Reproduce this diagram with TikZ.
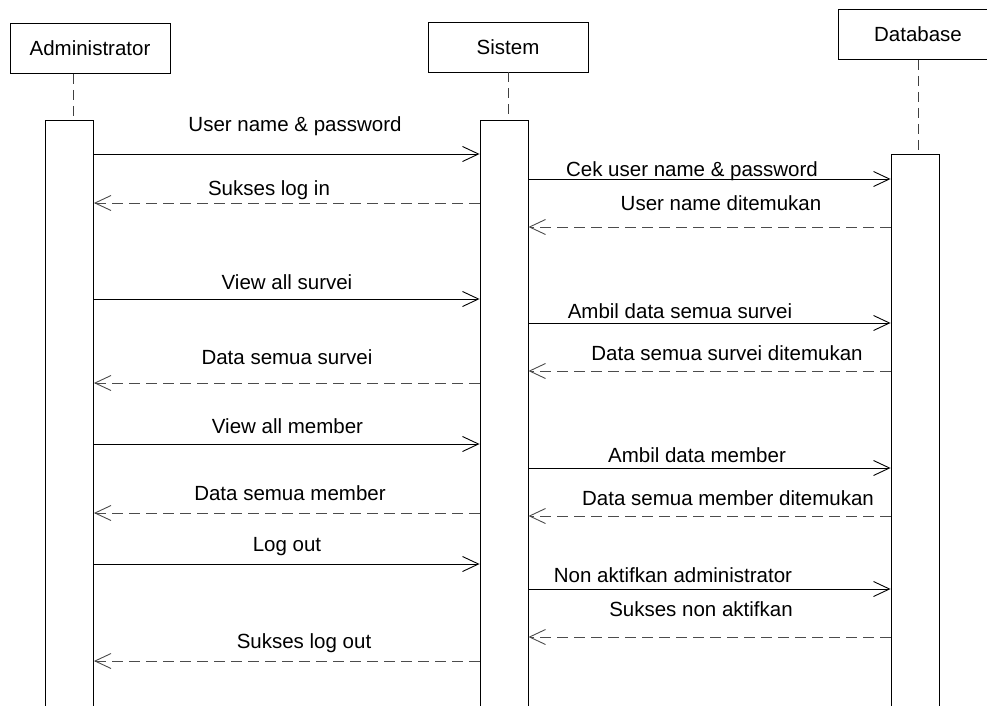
\documentclass[tikz,border=0pt]{standalone}
\usepackage{fontspec}
\setmainfont{Liberation Sans}
\usetikzlibrary{arrows.meta}
\begin{document}
\begin{tikzpicture}[x=1pt,y=-1pt,
  every node/.style={font=\fontsize{20.5}{24}\selectfont},
  head/.style={draw, line width=0.9pt, minimum width=160pt, minimum height=50pt, inner sep=0pt},
  bar/.style={draw, line width=0.9pt, fill=white, minimum width=48pt, minimum height=650pt, anchor=north, inner sep=0pt},
  life/.style={line width=0.9pt, dash pattern=on 10pt off 6pt, draw=black!75},
  call/.style={line width=0.9pt, -{Straight Barb[length=16pt,width=15pt]}},
  reply/.style={call, dash pattern=on 11pt off 6pt, draw=black!70},
  msg/.style={inner sep=0pt}
]
\useasboundingbox (0,0) rectangle (987,706);
\clip (0,0) rectangle (987,706);

% participants
\node[head] (admin) at (90,48.5) {Administrator};
\node[head] (sistem) at (508,47) {Sistem};
\node[head] (db) at (918,34.5) {Database};

% activation bars
\node[bar] (aBar) at (69.5,120) {};
\node[bar] (sBar) at (504,120) {};
\node[bar] (dBar) at (915,154) {};

% lifelines
\draw[life] ([xshift=-17pt]admin.south) -- ([xshift=-17pt]admin.south |- aBar.north);
\draw[life] (sistem.south) -- (sistem.south |- sBar.north);
\draw[life] (db.south) -- (db.south |- dBar.north);

% messages
\draw[call]  (aBar.east |- 0,154) -- (sBar.west |- 0,154);
\node[msg] (m1) at (295,126) {User name \& password};
\draw[reply] (sBar.west |- 0,203) -- (aBar.east |- 0,203);
\node[msg] (m2) at (269,190) {Sukses log in};
\draw[call]  (sBar.east |- 0,179) -- (dBar.west |- 0,179);
\node[msg] (m3) at (692,171) {Cek user name \& password};
\draw[reply] (dBar.west |- 0,227) -- (sBar.east |- 0,227);
\node[msg] (m4) at (721,203) {User name ditemukan};

\draw[call]  (aBar.east |- 0,299) -- (sBar.west |- 0,299);
\node[msg] (m5) at (287,282) {View all survei};
\draw[call]  (sBar.east |- 0,323) -- (dBar.west |- 0,323);
\node[msg] (m6) at (680,311) {Ambil data semua survei};
\draw[reply] (dBar.west |- 0,371) -- (sBar.east |- 0,371);
\node[msg] (m8) at (727,353) {Data semua survei ditemukan};
\draw[reply] (sBar.west |- 0,383) -- (aBar.east |- 0,383);
\node[msg] (m7) at (287,357) {Data semua survei};

\draw[call]  (aBar.east |- 0,444) -- (sBar.west |- 0,444);
\node[msg] (m9) at (287.5,426) {View all member};
\draw[call]  (sBar.east |- 0,468) -- (dBar.west |- 0,468);
\node[msg] (m10) at (697,455) {Ambil data member};
\draw[reply] (sBar.west |- 0,513) -- (aBar.east |- 0,513);
\node[msg] (m11) at (290,493) {Data semua member};
\draw[reply] (dBar.west |- 0,516) -- (sBar.east |- 0,516);
\node[msg] (m12) at (728,498) {Data semua member ditemukan};

\draw[call]  (aBar.east |- 0,564) -- (sBar.west |- 0,564);
\node[msg] (m13) at (287,547) {Log out};
\draw[call]  (sBar.east |- 0,589) -- (dBar.west |- 0,589);
\node[msg] (m14) at (673,575) {Non aktifkan administrator};
\draw[reply] (dBar.west |- 0,637) -- (sBar.east |- 0,637);
\node[msg] (m15) at (701,609) {Sukses non aktifkan};
\draw[reply] (sBar.west |- 0,661) -- (aBar.east |- 0,661);
\node[msg] (m16) at (304,643) {Sukses log out};
\end{tikzpicture}
\end{document}
